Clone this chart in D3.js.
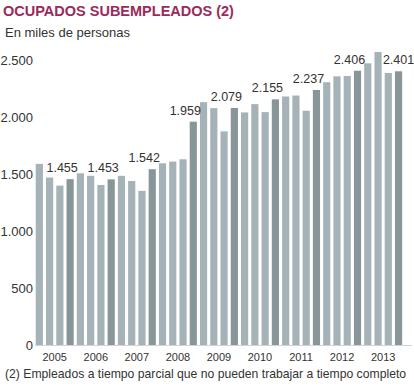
<!DOCTYPE HTML>
<head>
    <meta charset="utf-8">
    <script src="https://cdn.jsdelivr.net/npm/d3@7"></script>
</head>

<body>
    <svg width="414" height="388"></svg>
</body>

<style>
    body { margin: 0; background: #fff; }
    svg { display: block; font-family: "Liberation Sans", Arial, sans-serif; }
</style>

<script>
    var w = 414;
    var h = 388;

    // quarterly values, 2005 T1 .. 2013 T4 (miles de personas)
    var years = ["2005", "2006", "2007", "2008", "2009", "2010", "2011", "2012", "2013"];
    var values = [
        1589, 1469, 1398, 1455,
        1506, 1484, 1404, 1453,
        1484, 1439, 1352, 1542,
        1594, 1609, 1629, 1959,
        2130, 2078, 1874, 2079,
        2040, 2113, 2043, 2155,
        2180, 2188, 2055, 2237,
        2305, 2357, 2360, 2406,
        2471, 2570, 2386, 2401
    ];
    var yTicks = [0, 500, 1000, 1500, 2000, 2500];

    var quarters = [];
    years.forEach(function(y) {
        for (var q = 1; q <= 4; q++) quarters.push(y + "-" + q);
    });

    var data = values.map(function(v, i) {
        return { key: quarters[i], value: v, q4: (i % 4) == 3 };
    });

    var fmt = d3.formatLocale({ decimal: ",", thousands: ".", grouping: [3], currency: ["", "€"] }).format(",d");

    var vis = d3.select("svg");

    var x = d3.scaleBand()
        .domain(quarters)
        .range([34.2, 403.7])
        .paddingInner(0.3)
        .paddingOuter(0.15);

    var y = d3.scaleLinear()
        .domain([0, 2500])
        .range([345, 60]);

    // title
    vis.append("text")
        .attr("x", 3)
        .attr("y", 16)
        .attr("fill", "#9b2a5b")
        .attr("font-size", 14.5)
        .attr("font-weight", "bold")
        .text("OCUPADOS SUBEMPLEADOS (2)");

    vis.append("text")
        .attr("x", 5)
        .attr("y", 37)
        .attr("fill", "#333")
        .attr("font-size", 13)
        .text("En miles de personas");

    // y axis labels
    vis.selectAll("text.ytick")
        .data(yTicks)
        .enter()
        .append("text")
        .attr("class", "ytick")
        .attr("x", 33)
        .attr("y", function(d) { return y(d); })
        .attr("dy", "0.36em")
        .attr("text-anchor", "end")
        .attr("fill", "#333")
        .attr("font-size", 13)
        .text(function(d) { return fmt(d); });

    // baseline
    vis.append("line")
        .attr("x1", 35)
        .attr("x2", 412)
        .attr("y1", y(0) + 0.5)
        .attr("y2", y(0) + 0.5)
        .attr("stroke", "#cfd4d6")
        .attr("stroke-width", 1);

    // bars
    vis.selectAll("rect")
        .data(data)
        .enter()
        .append("rect")
        .attr("x", function(d) { return x(d.key); })
        .attr("y", function(d) { return y(d.value); })
        .attr("width", x.bandwidth())
        .attr("height", function(d) { return y(0) - y(d.value); })
        .attr("fill", function(d) { return d.q4 ? "#899699" : "#a5b3b8"; });

    // value labels on the fourth quarter of each year
    var last = data[data.length - 1].key;
    vis.selectAll("text.val")
        .data(data.filter(function(d) { return d.q4; }))
        .enter()
        .append("text")
        .attr("class", "val")
        .attr("x", function(d) {
            var cx = x(d.key) + x.bandwidth() / 2;
            return d.key == last ? cx : cx - 8;
        })
        .attr("y", function(d) { return y(d.value) - 7; })
        .attr("text-anchor", "middle")
        .attr("fill", "#333")
        .attr("font-size", 12.5)
        .text(function(d) { return fmt(d.value); });

    // year labels
    vis.selectAll("text.year")
        .data(years)
        .enter()
        .append("text")
        .attr("class", "year")
        .attr("x", function(d) {
            var a = x(d + "-1"), b = x(d + "-4") + x.bandwidth();
            return (a + b) / 2;
        })
        .attr("y", 361)
        .attr("text-anchor", "middle")
        .attr("fill", "#333")
        .attr("font-size", 11)
        .text(function(d) { return d; });

    // footnote
    vis.append("text")
        .attr("x", 5)
        .attr("y", 378)
        .attr("fill", "#333")
        .attr("font-size", 12.2)
        .text("(2) Empleados a tiempo parcial que no pueden trabajar a tiempo completo");
</script>
